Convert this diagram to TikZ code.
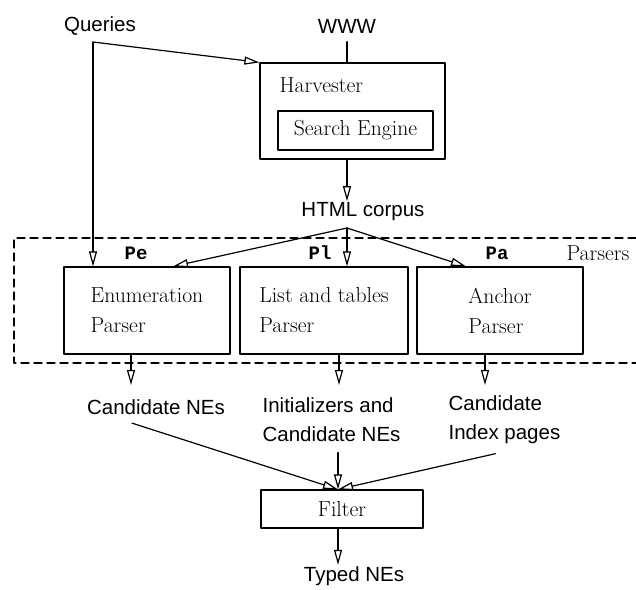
\documentclass[tikz,border=0pt]{standalone}
\usepackage{fontspec}
\newfontfamily\labelfont{Liberation Sans}
\newfontfamily\codefont{Liberation Mono}
\usetikzlibrary{arrows.meta}

\begin{document}
\begin{tikzpicture}[line cap=round,line join=round,x=1pt,y=-1pt,
  >={Triangle[open,length=15pt,width=8pt]},
  every path/.style={line width=1.2pt},
  box/.style={draw,inner sep=0pt,align=left,font=\fontsize{21.7}{30}\selectfont},
  serif/.style={inner sep=0pt,font=\fontsize{21.7}{30}\selectfont},
  sans/.style={inner sep=1pt,align=left,font=\labelfont\fontsize{20.5}{29}\selectfont},
  code/.style={inner sep=0pt,font=\codefont\bfseries\fontsize{19}{22}\selectfont}]
        \useasboundingbox (0,0) rectangle (636,589);
        % inputs and harvester
        \node[sans] (queries) at (100,26) {Queries};
        \node[sans] (www) at (347,26) {WWW};
        \coordinate (qsplit) at (93,42);
        \node[box,minimum width=185,minimum height=96] (harvester) at (352.5,111) {};
        \node[serif,anchor=west] (harvtitle) at (279,85) {Harvester};
        \node[box,minimum width=155,minimum height=39] (search) at (355.5,130.5) {Search Engine};
        \node[sans] (corpus) at (363,212) {HTML corpus};
        \coordinate (split) at (347,228);
        \draw[shorten <=7pt] (www.south) -- (www |- harvester.north);
        \draw[->] (qsplit) -- (harvester.north west);
        \draw[->] (www |- harvester.south) -- (www |- corpus.north);
        % parsers
        \draw[dashed,dash pattern=on 8pt off 5pt] (636,238) -| (14,363) -- (636,363);
        \node[box,minimum width=166,minimum height=87] (enum) at (147,310.5) {Enumeration\\Parser};
        \node[box,minimum width=168,minimum height=87] (list) at (324,310.5) {List and tables\\Parser};
        \node[box,minimum width=166,minimum height=87] (anchor) at (500,310.5) {Anchor\\Parser};
        \node[code] (pe) at (136,253) {Pe};
        \node[code] (pl) at (320,253) {Pl};
        \node[code] (pa) at (497,253) {Pa};
        \node[serif] (parsers) at (598,253) {Parsers};
        \draw[->] (qsplit) -- (qsplit |- enum.north);
        \draw[->] (split) -- ([xshift=26pt]enum.north);
        \draw[->] (split) -- (split |- list.north);
        \draw[->] (split) -- ([xshift=-34pt]anchor.north);
        % parser output
        \coordinate (outrow) at (0,385);
        \node[sans] (candne) at (156,407) {Candidate NEs};
        \node[sans,anchor=west,inner sep=0pt] (initial) at (262,420) {Initializers and\\Candidate NEs};
        \node[sans,anchor=west,inner sep=0pt] (candidx) at (448,420) {Candidate\\Index pages};
        \draw[->] ([xshift=-16pt]enum.south) -- ([xshift=-16pt]enum.south |- outrow);
        \draw[->] ([xshift=15pt]list.south) -- ([xshift=15pt]list.south |- outrow);
        \draw[->] ([xshift=-15pt]anchor.south) -- ([xshift=-15pt]anchor.south |- outrow);
        % filter
        \node[box,minimum width=162,minimum height=38] (filter) at (342,509) {Filter};
        \coordinate (filterin) at ([xshift=-4pt]filter.north);
        \node[sans] (typed) at (354,576) {Typed NEs};
        \draw[->] ([xshift=-24pt,yshift=-7pt]candne.south) -- (filterin);
        \draw[->,shorten <=10pt] (initial.south -| filterin) -- (filterin);
        \draw[->] ([xshift=-9pt,yshift=-9pt]candidx.south) -- (filterin);
        \draw[->] (filterin |- filter.south) -- (filterin |- typed.north);
\end{tikzpicture}
\end{document}
